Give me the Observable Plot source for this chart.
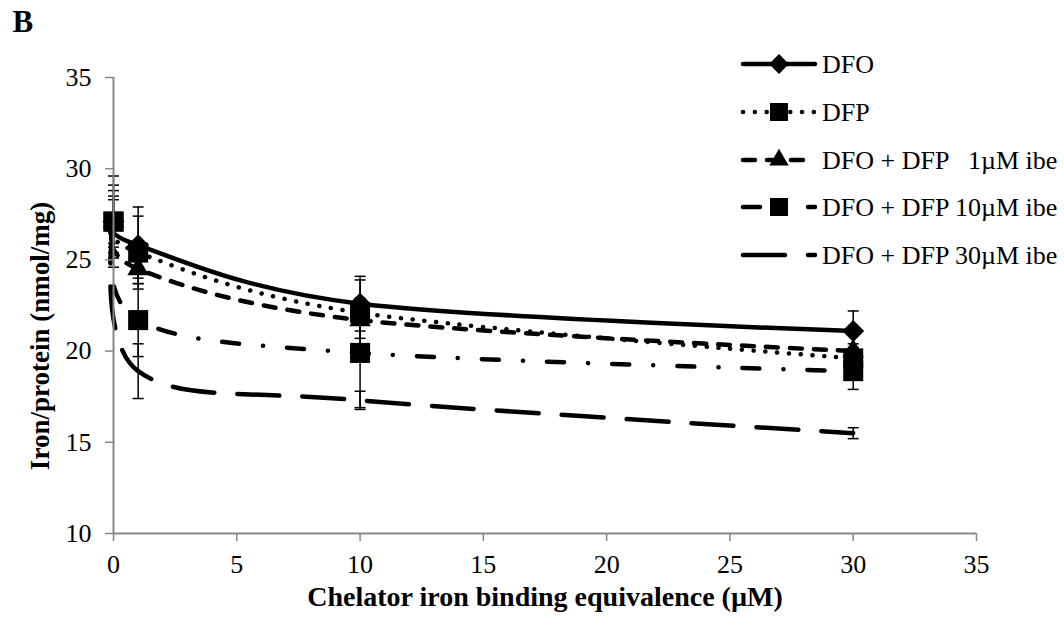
<!DOCTYPE html>
<html>
<head>
<meta charset="utf-8">
<script src="https://cdn.jsdelivr.net/npm/d3@7"></script>
<script src="https://cdn.jsdelivr.net/npm/@observablehq/plot@0.6"></script>
<style>
  body { margin: 0; background: #fff; }
  #wrap { position: relative; width: 1064px; height: 626px; background: #fff; }
  #legend { position: absolute; left: 0; top: 0; pointer-events: none; }
</style>
</head>
<body>
<div id="wrap"></div>
<script>
// ---- data ----
const doses = [0, 1, 10, 30];
const seriesNames = ["DFO", "DFP", "DFO + DFP 1µM ibe", "DFO + DFP 10µM ibe", "DFO + DFP 30µM ibe"];
const legendLabels = ["DFO", "DFP", "DFO + DFP \u20071µM ibe", "DFO + DFP 10µM ibe", "DFO + DFP 30µM ibe"];
const dfo     = [27.1, 25.8, 22.6, 21.1];
const dfp     = [27.1, 25.4, 22.1, 19.6];
const combo1  = [27.1, 24.5, 21.7, 20.0];
const combo10 = [27.1, 21.7, 19.9, 18.9];
const combo30 = [27.1, 18.9, 17.3, 15.5];
const errDfo     = [2.5, 2.1, 1.5, 1.1];
const errDfp     = [2.0, 2.0, 1.8, 0.6];
const errCombo1  = [1.7, 0.5, 1.0, 0.4];
const errCombo10 = [1.4, 2.0, 3.0, 1.0];
const errCombo30 = [1.2, 1.5, 0.5, 0.3];
const xTicks = [0, 5, 10, 15, 20, 25, 30, 35];
const yTicks = [10, 15, 20, 25, 30, 35];
const xTitle = "Chelator iron binding equivalence (µM)";
const yTitle = "Iron/protein (nmol/mg)";
const panelLetter = "B";

// ---- styles ----
const valuesList = [dfo, dfp, combo1, combo10, combo30];
const errList = [errDfo, errDfp, errCombo1, errCombo10, errCombo30];
const styles = [
  {dash: null,            symbol: "diamond2", r: 9.9},
  {dash: "0.1,11.7",      symbol: "square",   r: 11.3},
  {dash: "12,12",         symbol: "triangle", r: 8},
  {dash: "17,24,0.1,24",  symbol: "square",   r: 11.3},
  {dash: "42,23",         symbol: null,       r: 0}
];

const rows = [];
seriesNames.forEach((name, si) => {
  doses.forEach((d, i) => rows.push({series: name, si, x: d, y: valuesList[si][i], err: errList[si][i]}));
});

const GRAY = "#878787";
const FONT = "'Liberation Serif', 'Times New Roman', serif";

const capSymbol = {
  draw(context) { context.moveTo(-5.5, 0); context.lineTo(5.5, 0); }
};

const marks = [];
// series lines
seriesNames.forEach((name, si) => {
  marks.push(Plot.line(rows.filter(r => r.si === si), {
    x: "x", y: "y", curve: "cardinal", stroke: "black", strokeWidth: 4.5,
    strokeDasharray: styles[si].dash || undefined, strokeLinecap: "round", strokeLinejoin: "round"
  }));
});
// error bars
marks.push(Plot.ruleX(rows, {x: "x", y1: r => r.y - r.err, y2: r => r.y + r.err, stroke: "black", strokeWidth: 1.5}));
marks.push(Plot.dot(rows, {x: "x", y: r => r.y + r.err, symbol: capSymbol, r: 3, stroke: "black", strokeWidth: 1.5, fill: "none"}));
marks.push(Plot.dot(rows, {x: "x", y: r => r.y - r.err, symbol: capSymbol, r: 3, stroke: "black", strokeWidth: 1.5, fill: "none"}));
// markers
seriesNames.forEach((name, si) => {
  if (!styles[si].symbol) return;
  marks.push(Plot.dot(rows.filter(r => r.si === si), {
    x: "x", y: "y", symbol: () => styles[si].symbol, r: styles[si].r, fill: "black", stroke: "none"
  }));
});
// axes
marks.push(Plot.axisY({ticks: yTicks, tickSize: 8, tickPadding: 14, stroke: GRAY, fill: "black", strokeWidth: 1.5, fontSize: 26, label: null}));
marks.push(Plot.axisX({ticks: xTicks, tickSize: 8, tickPadding: 13, stroke: GRAY, fill: "black", strokeWidth: 1.5, fontSize: 26, label: null}));
marks.push(Plot.ruleX([0], {stroke: GRAY, strokeWidth: 2}));
marks.push(Plot.ruleY([10], {stroke: GRAY, strokeWidth: 2}));
// titles
marks.push(Plot.text([xTitle], {text: d => d, frameAnchor: "bottom", dy: 72, fontWeight: "bold", fontSize: 28}));
marks.push(Plot.text([panelLetter], {text: d => d, frameAnchor: "top-left", dx: -101, dy: -68, textAnchor: "start", lineAnchor: "top", fontWeight: "bold", fontSize: 31}));

const chart = Plot.plot({
  width: 1064, height: 626,
  marginLeft: 113, marginRight: 88, marginTop: 77, marginBottom: 93,
  x: {domain: [0, 35]},
  y: {domain: [10, 35]},
  style: {fontFamily: FONT, fontSize: "26px", color: "black", background: "white", overflow: "visible"},
  marks
});
document.getElementById("wrap").appendChild(chart);

// ---- overlay: y-axis title and legend ----
const over = d3.select("#wrap").append("svg").attr("id", "legend")
  .attr("width", 1064).attr("height", 626);
over.append("text")
  .attr("transform", "translate(40,336) rotate(-90)")
  .attr("text-anchor", "middle").attr("dy", "0.35em")
  .attr("font-family", FONT).attr("font-size", 27).attr("font-weight", "bold").attr("fill", "black")
  .text(yTitle);

const rowY = [64, 112, 160, 207, 255];
const lx0 = 743, lx1 = 815, lmid = 779, ltext = 822;
const d3Sym = {diamond2: d3.symbolDiamond2, square: d3.symbolSquare, triangle: d3.symbolTriangle};
legendLabels.forEach((label, si) => {
  const g = over.append("g").attr("transform", `translate(0,${rowY[si]})`);
  const ln = g.append("line").attr("x1", lx0).attr("x2", lx1).attr("y1", 0).attr("y2", 0)
    .attr("stroke", "black").attr("stroke-width", 4.5).attr("stroke-linecap", "round");
  if (styles[si].dash) ln.attr("stroke-dasharray", styles[si].dash);
  if (styles[si].symbol) {
    const r = styles[si].r * 0.9;
    g.append("path").attr("transform", `translate(${lmid},0)`)
      .attr("d", d3.symbol(d3Sym[styles[si].symbol], Math.PI * r * r)()).attr("fill", "black");
  }
  g.append("text").attr("x", ltext).attr("y", 0).attr("dy", "0.35em")
    .attr("font-family", FONT).attr("font-size", 26).attr("fill", "black")
    .style("white-space", "pre").text(label);
});
</script>
</body>
</html>
